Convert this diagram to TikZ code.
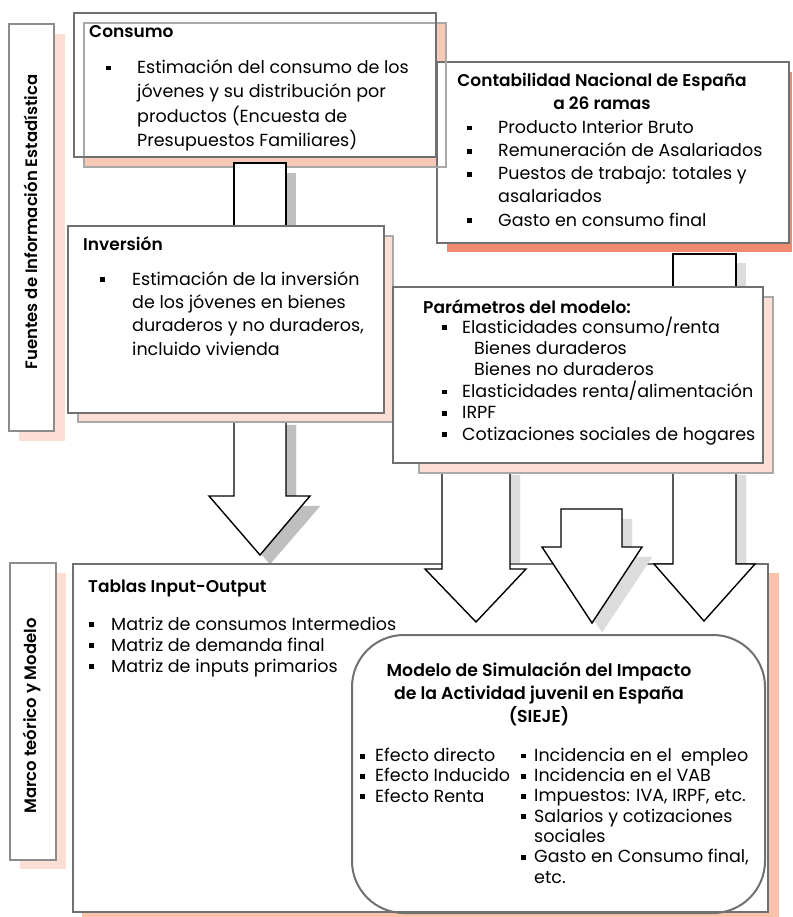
\documentclass[tikz,border=0pt]{standalone}
\usepackage{fontspec}
\setmainfont{Poppins}[BoldFont={Poppins SemiBold}]
\definecolor{boxgray}{HTML}{707070}
\definecolor{framegray}{HTML}{A9A9A9}
\definecolor{sidegray}{HTML}{8C8C8C}
\definecolor{pinklight}{HTML}{FCDED4}
\definecolor{pinkmid}{HTML}{F8C9B7}
\definecolor{salmon}{HTML}{EE8B72}
\definecolor{peach}{HTML}{F9C2AC}
\definecolor{shadedark}{HTML}{BFBFBF}
\definecolor{shadelight}{HTML}{DCDCDC}
\newcommand{\sqb}{\raisebox{0.3ex}{\rule{4.8pt}{4.8pt}}}
\newcommand{\bl}[1][29pt]{\makebox[#1][l]{\sqb}}
% block arrow: style, stem left, stem right, top, neck, head left, head right, tip x, tip y
\newcommand{\blockarrow}[9]{\filldraw[#1] (#2,#4) -- (#2,#5) -- (#6,#5) -- (#8,#9) -- (#7,#5) -- (#3,#5) -- (#3,#4) -- cycle;}
\tikzset{
  boxline/.style={draw=boxgray, line width=2pt},
  frameline/.style={draw=framegray, line width=2pt},
  arrowbody/.style={draw=black, fill=white, line width=1.4pt, line join=miter},
  title/.style={inner sep=0pt, anchor=base west, font=\bfseries\fontsize{17}{23}\selectfont},
  body/.style={inner sep=0pt, anchor=base west, align=left},
  sidelabel/.style={inner sep=0pt, rotate=90, font=\bfseries\fontsize{16.5}{19}\selectfont}
}
\begin{document}
\begin{tikzpicture}[x=1pt,y=-1pt,line join=miter]
\useasboundingbox (0,0) rectangle (792,917);
% side labels
\fill[pinklight] (19,34) rectangle (65,441);
\filldraw[fill=white, draw=sidegray, line width=1.6pt] (9,24) rectangle (54,431);
\node[sidelabel] (fuentes) at (31,222) {Fuentes de Información Estadística};
\fill[pinklight] (20,573) rectangle (66,869);
\filldraw[fill=white, draw=sidegray, line width=1.6pt] (10,563) rectangle (56,860);
\node[sidelabel] (marco) at (32,716) {Marco teórico y Modelo};
% shadows of the long arrows (behind Tablas)
\blockarrow{shadedark}{244}{296}{425}{506}{219}{320}{270}{564}
\blockarrow{shadelight}{452}{520}{475}{579}{435}{536}{486}{632}
\blockarrow{shadelight}{683}{746}{475}{574}{664}{765}{714}{631}
% Tablas Input-Output
\fill[peach] (82,573) rectangle (779,917);
\filldraw[fill=white, boxline] (73,564) rectangle (768,912);
\node[title] (tablasT) at (88,592) {Tablas Input-Output};
\node[body, font=\fontsize{17.5}{21}\selectfont] (tablasL) at (89,672)
  {\bl[22pt]Matriz de consumos Intermedios\\\bl[22pt]Matriz de demanda final\\\bl[22pt]Matriz de inputs primarios};
% modelo SIEJE
\draw[boxline, rounded corners=52pt] (352,635) rectangle (765,913);
\node[inner sep=0pt, anchor=base, align=center, font=\bfseries\fontsize{17.3}{23}\selectfont] (sieje) at (539,722)
  {Modelo de Simulación del Impacto\\de la Actividad juvenil en España\\(SIEJE)};
\node[body, font=\fontsize{17.5}{20.3}\selectfont] (efectos) at (360,802)
  {\bl[15pt]Efecto directo\\\bl[15pt]Efecto Inducido\\\bl[15pt]Efecto Renta};
\node[body, font=\fontsize{17.5}{20.3}\selectfont] (incidencia) at (521,883)
  {\bl[13pt]Incidencia en el\ \ empleo\\\bl[13pt]Incidencia en el VAB\\\bl[13pt]Impuestos: IVA, IRPF, etc.\\\bl[13pt]Salarios y cotizaciones\\\hspace*{13pt}sociales\\\bl[13pt]Gasto en Consumo final,\\\hspace*{13pt}etc.};
% long arrows
\blockarrow{arrowbody}{234}{286}{415}{496}{209}{310}{260}{555}
\blockarrow{arrowbody}{442}{510}{465}{569}{425}{526}{476}{622}
\blockarrow{arrowbody}{673}{736}{465}{564}{654}{755}{704}{621}
\blockarrow{shadelight}{571}{632}{519}{557}{552}{652}{602}{632}
\blockarrow{arrowbody}{561}{622}{509}{547}{542}{642}{592}{623}
% Inversion
\filldraw[fill=pinklight, draw=framegray, line width=1.6pt] (78,236) rectangle (393,422);
\filldraw[fill=white, boxline] (68,226) rectangle (384,413);
\node[title] (inversionT) at (83,250) {Inversión};
\node[body, font=\fontsize{17.5}{23.3}\selectfont] (inversionL) at (100,355)
  {\bl[32pt]Estimación de la inversión\\\hspace*{32pt}de los jóvenes en bienes\\\hspace*{32pt}duraderos y no duraderos,\\\hspace*{32pt}incluido vivienda};
% Parametros
\filldraw[fill=pinklight, draw=framegray, line width=1.6pt] (419,297) rectangle (773,473);
\filldraw[fill=white, boxline] (393,287) rectangle (763,463);
\node[title] (parametrosT) at (423,313) {Parámetros del modelo:};
\node[body, font=\fontsize{17.5}{21.4}\selectfont] (parametrosL) at (442,440)
  {\bl[20pt]Elasticidades consumo/renta\\\hspace*{32pt}Bienes duraderos\\\hspace*{32pt}Bienes no duraderos\\\bl[20pt]Elasticidades renta/alimentación\\\bl[20pt]IRPF\\\bl[20pt]Cotizaciones sociales de hogares};
% Consumo and Contabilidad
\fill[pinkmid] (84,23) rectangle (446,167);
\fill[white] (74,13) rectangle (436,157);
\fill[salmon] (447,72) rectangle (792,252);
\filldraw[fill=white, boxline] (437,62) rectangle (789,243);
\draw[frameline] (84,23) rectangle (446,167);
\draw[boxline] (74,13) rectangle (436,157);
\node[title] (consumoT) at (89,38) {Consumo};
\node[body, font=\fontsize{17.5}{24.6}\selectfont] (consumoL) at (106,147)
  {\bl[31pt]Estimación del consumo de los\\\hspace*{31pt}jóvenes y su distribución por\\\hspace*{31pt}productos (Encuesta de\\\hspace*{31pt}Presupuestos Familiares)};
\node[inner sep=0pt, anchor=base, align=center, font=\bfseries\fontsize{17}{23}\selectfont] (contaT) at (602,110)
  {Contabilidad Nacional de España\\a 26 ramas};
\node[body, font=\fontsize{17.5}{23.2}\selectfont] (contaL) at (467,226)
  {\bl[31pt]Producto Interior Bruto\\\bl[31pt]Remuneración de Asalariados\\\bl[31pt]Puestos de trabajo: totales y\\\hspace*{31pt}asalariados\\\bl[31pt]Gasto en consumo final};
% short arrows
\fill[shadedark] (286,173) rectangle (296,226);
\filldraw[arrowbody] (234,163) rectangle (286,226);
\fill[shadelight] (736,263) rectangle (746,287);
\filldraw[arrowbody] (673,254) rectangle (736,287);
\draw[boxline] (68,226) -- (384,226);
\draw[boxline] (393,287) -- (763,287);
\end{tikzpicture}
\end{document}
